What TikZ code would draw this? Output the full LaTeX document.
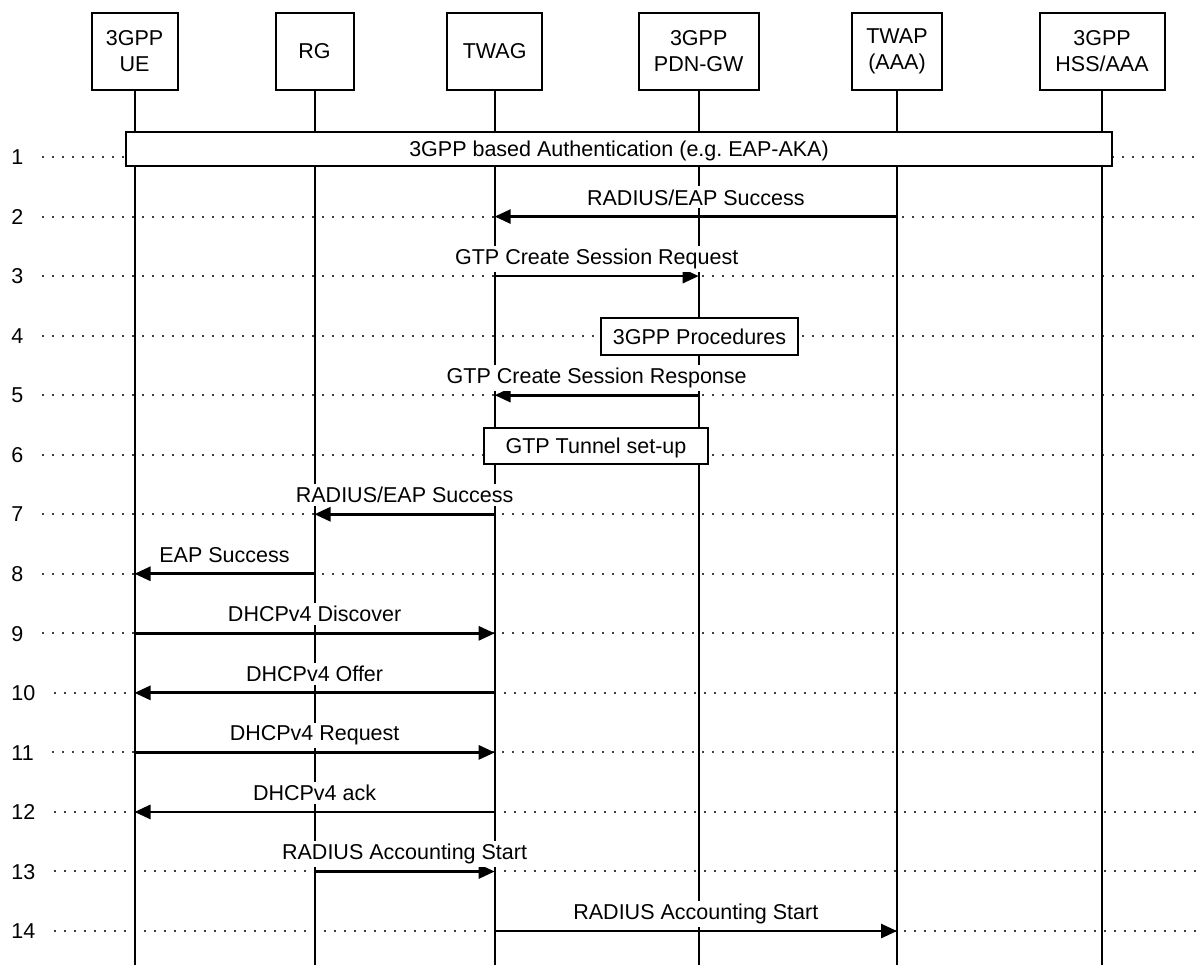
\documentclass[tikz,border=0pt]{standalone}
\usepackage{fontspec}
\setmainfont{Liberation Sans}
\usetikzlibrary{arrows.meta}
\begin{document}
\begin{tikzpicture}[x=0.5pt,y=-0.5pt,
  font=\fontsize{10.75pt}{13pt}\selectfont,
  actor/.style={draw,line width=1pt,fill=white,minimum height=38.5pt,inner sep=0pt,align=center},
  life/.style={line width=1pt},
  rowlbl/.style={anchor=west,inner sep=0pt,text height=7.7pt,text depth=0pt},
  guide/.style={line width=1pt,black!75,dash pattern=on 1pt off 4pt},
  msg/.style={line width=1.4pt,-{Triangle[length=8pt,width=7pt]}},
  lbl/.style={anchor=base,yshift=5.75pt,fill=white,inner sep=1.5pt},
  proc/.style={draw,line width=1pt,fill=white,inner sep=0pt,text height=7.7pt,text depth=0pt}
]
\useasboundingbox (0,0) rectangle (1200,965);
\coordinate (bottom) at (0,965);
\coordinate (edge) at (1200,0);

% step numbers and their dotted guide lines
\foreach \i in {1,...,14} {
  \pgfmathsetmacro\yy{157+(\i-1)*59.54}
  \coordinate (r\i) at (0,\yy);
  \node[rowlbl] (n\i) at (11,\yy) {\i};
  \draw[guide] ([xshift=9pt]n\i.east) -- (n\i.east -| edge);
}

% participants
\node[actor,minimum width=43pt] (ue)   at (134.5,51.5) {3GPP\\UE};
\node[actor,minimum width=39pt] (rg)   at (314.5,51.5) {RG};
\node[actor,minimum width=47.5pt] (twag) at (494.7,51.5) {TWAG};
\node[actor,minimum width=60pt] (pgw)  at (698.7,51.5) {3GPP\\PDN-GW};
\node[actor,minimum width=45pt] (twap) at (897,51.5) {TWAP\\(AAA)};
\node[actor,minimum width=62.5pt] (hss)  at (1102,51.5) {3GPP\\HSS/AAA};

% lifelines
\foreach \a in {ue,rg,twag,pgw,twap,hss}
  \draw[life] (\a.south) -- (\a.south |- bottom);

% procedure boxes
\node[proc,minimum width=493pt,minimum height=17pt] (auth) at (619,149)
  {3GPP based Authentication (e.g.\ EAP-AKA)};
\node[proc,minimum width=98.5pt,minimum height=18.5pt] (proc) at (699.5,336.5)
  {3GPP Procedures};
\node[proc,minimum width=112pt,minimum height=18pt] (tun) at (596,446)
  {GTP Tunnel set-up};

% messages
\draw[msg] (twap |- r2) -- node[lbl]{RADIUS/EAP Success} (twag |- r2);
\draw[msg] (twag |- r3) -- node[lbl]{GTP Create Session Request} (pgw |- r3);
\draw[msg] (pgw |- r5) -- node[lbl]{GTP Create Session Response} (twag |- r5);
\draw[msg] (twag |- r7) -- node[lbl]{RADIUS/EAP Success} (rg |- r7);
\draw[msg] (rg |- r8) -- node[lbl]{EAP Success} (ue |- r8);
\draw[msg] (ue |- r9) -- node[lbl]{DHCPv4 Discover} (twag |- r9);
\draw[msg] (twag |- r10) -- node[lbl]{DHCPv4 Offer} (ue |- r10);
\draw[msg] (ue |- r11) -- node[lbl]{DHCPv4 Request} (twag |- r11);
\draw[msg] (twag |- r12) -- node[lbl]{DHCPv4 ack} (ue |- r12);
\draw[msg] (rg |- r13) -- node[lbl]{RADIUS Accounting Start} (twag |- r13);
\draw[msg] (twag |- r14) -- node[lbl]{RADIUS Accounting Start} (twap |- r14);
\end{tikzpicture}
\end{document}
